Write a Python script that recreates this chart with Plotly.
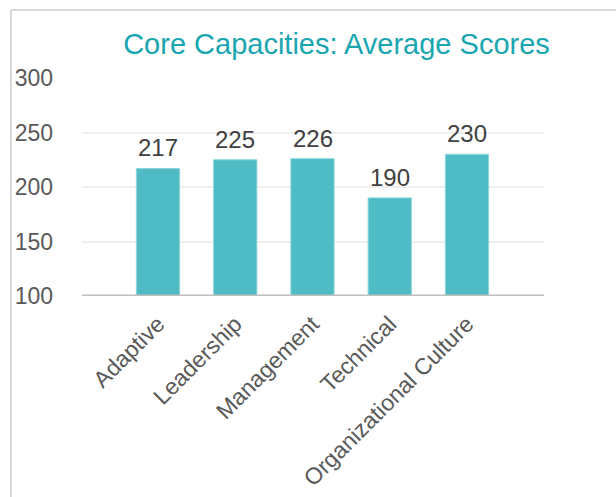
import plotly.graph_objects as go

categories = ["Adaptive", "Leadership", "Management", "Technical", "Organizational Culture"]
scores = [217, 225, 226, 190, 230]
y_ticks = [100, 150, 200, 250, 300]

W, H = 616, 497
L, R, T, B = 82, 72, 78, 201
pw, ph = W - L - R, H - T - B

fig = go.Figure()
xs = list(range(len(categories)))
fig.add_trace(go.Bar(
    x=xs, y=scores,
    marker=dict(color="#4EBBC5", line=dict(color="#8ED6DC", width=1)),
    width=0.56, hoverinfo="skip",
))

for xi, v in zip(xs, scores):
    fig.add_annotation(x=xi, y=v, text=str(v), showarrow=False,
                       xanchor="center", yanchor="bottom", yshift=5,
                       font=dict(family="Liberation Sans, Arial", size=24, color="#404040"))

fig.update_layout(
    width=W, height=H,
    margin=dict(l=L, r=R, t=T, b=B, autoexpand=False),
    plot_bgcolor="white", paper_bgcolor="white",
    showlegend=False,
    title=dict(text="Core Capacities: Average Scores", x=336.5 / W, xanchor="center",
               y=1 - 44 / H, yanchor="middle",
               font=dict(family="Liberation Sans, Arial", size=29, color="#1AA6B0")),
    xaxis=dict(
        range=[-0.984, 4.997], automargin=False,
        tickmode="array", tickvals=xs, ticktext=categories,
        tickangle=-45, showgrid=False, zeroline=False,
        tickfont=dict(family="Liberation Sans, Arial", size=23, color="#595959"),
        showline=False, ticks="", ticklabelstandoff=9,
    ),
    yaxis=dict(
        range=[100, 300], tickvals=y_ticks, automargin=False,
        showgrid=True, gridcolor="#EFEFEF", gridwidth=1.5,
        zeroline=False, showline=False, ticks="",
        tickfont=dict(family="Liberation Sans, Arial", size=23, color="#595959"),
        ticklabelstandoff=28,
    ),
)

# baseline
fig.add_shape(type="line", xref="paper", yref="y", x0=0, x1=1, y0=100, y1=100,
              line=dict(color="#BFBFBF", width=3))
# frame (top and left edges of the chart border)
fx0 = (11 - L) / pw
fy1 = 1 + (T - 10) / ph
fig.add_shape(type="line", xref="paper", yref="paper", x0=fx0, x1=(W + 5 - L) / pw, y0=fy1, y1=fy1,
              line=dict(color="#D9D9D9", width=2))
fig.add_shape(type="line", xref="paper", yref="paper", x0=fx0, x1=fx0, y0=fy1, y1=-(B + 5) / ph,
              line=dict(color="#D9D9D9", width=2))

fig.write_html("out.html", config={"displayModeBar": False},
               post_script="document.body.style.margin='0';")
